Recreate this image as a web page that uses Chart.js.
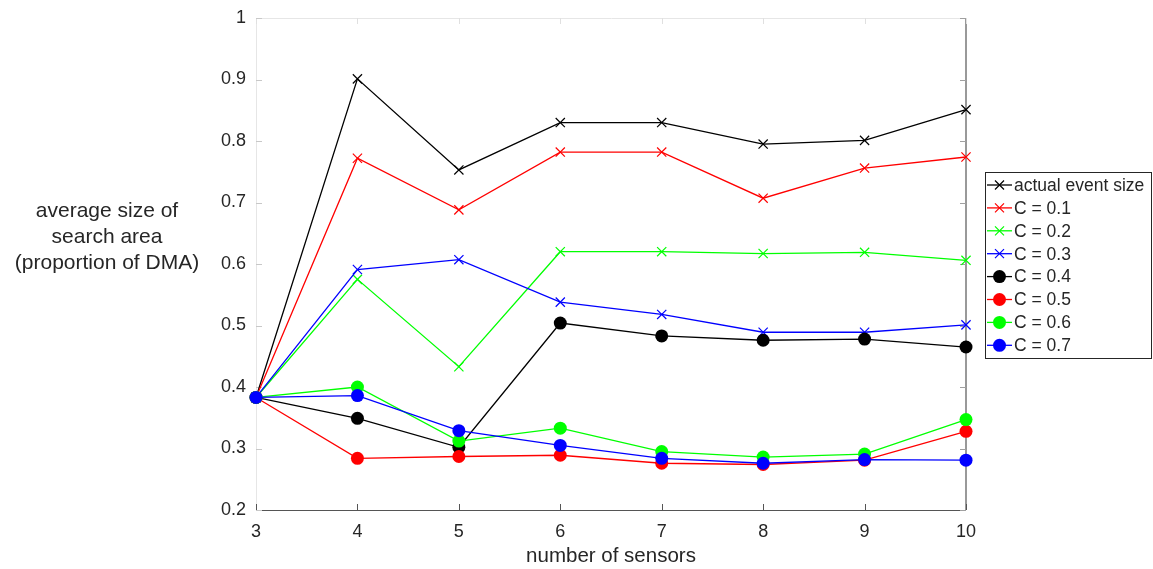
<!DOCTYPE html>
<html>
<head>
<meta charset="utf-8">
<script src="https://cdn.jsdelivr.net/npm/chart.js@4.4.1/dist/chart.umd.min.js"></script>
<style>
  html, body { margin: 0; padding: 0; background: #fff; }
  #wrap { width: 1153px; height: 569px; }
</style>
</head>
<body>
<div id="wrap"><canvas id="chart"></canvas></div>
<script>
// Sensor counts on the x axis
const sensors = [3, 4, 5, 6, 7, 8, 9, 10];

// Average search area size per configuration
const actualEventSize = [0.383, 0.901, 0.753, 0.830, 0.830, 0.795, 0.801, 0.851];
const c01 = [0.383, 0.772, 0.688, 0.782, 0.782, 0.707, 0.756, 0.774];
const c02 = [0.383, 0.575, 0.433, 0.620, 0.620, 0.617, 0.619, 0.606];
const c03 = [0.383, 0.591, 0.607, 0.538, 0.518, 0.489, 0.489, 0.501];
const c04 = [0.383, 0.349, 0.302, 0.504, 0.483, 0.476, 0.478, 0.465];
const c05 = [0.383, 0.284, 0.287, 0.289, 0.276, 0.274, 0.281, 0.328];
const c06 = [0.383, 0.400, 0.312, 0.333, 0.295, 0.286, 0.291, 0.347];
const c07 = [0.383, 0.386, 0.329, 0.305, 0.284, 0.276, 0.282, 0.281];

const seriesLabels = ['actual event size', 'C = 0.1', 'C = 0.2', 'C = 0.3', 'C = 0.4', 'C = 0.5', 'C = 0.6', 'C = 0.7'];
const seriesValues = [actualEventSize, c01, c02, c03, c04, c05, c06, c07];
const seriesColors = ['#000000', '#ff0000', '#00ff00', '#0000ff', '#000000', '#ff0000', '#00ff00', '#0000ff'];
const seriesMarkers = ['crossRot', 'crossRot', 'crossRot', 'crossRot', 'circle', 'circle', 'circle', 'circle'];

const yTicks = [0.2, 0.3, 0.4, 0.5, 0.6, 0.7, 0.8, 0.9, 1];

const FONT = '"Liberation Sans", Arial, Helvetica, sans-serif';
const TEXT = '#262626';

const datasets = seriesLabels.map((label, i) => {
    const cross = seriesMarkers[i] === 'crossRot';
    return {
        label: label,
        data: sensors.map((s, k) => ({ x: s, y: seriesValues[i][k] })),
        borderColor: seriesColors[i],
        backgroundColor: seriesColors[i],
        pointBorderColor: seriesColors[i],
        pointBackgroundColor: seriesColors[i],
        pointStyle: seriesMarkers[i],
        pointRadius: cross ? 6.5 : 6.5,
        pointBorderWidth: cross ? 1.2 : 0,
        borderWidth: 1.3,
        tension: 0,
        fill: false,
        clip: false,
        // later series sit on top
        order: seriesLabels.length - i
    };
});

// Box, inward ticks, y title and legend
const framePlugin = {
    id: 'frame',
    beforeDatasetsDraw(chart) {
        const { ctx, chartArea: a, scales } = chart;
        const xs = scales.x, ys = scales.y;
        ctx.save();

        // frame
        ctx.lineWidth = 1;
        ctx.strokeStyle = '#e6e6e6';
        ctx.beginPath();
        ctx.moveTo(a.left + 0.5, a.top + 0.5);
        ctx.lineTo(a.right + 0.5, a.top + 0.5);
        ctx.moveTo(a.left + 0.5, a.top + 0.5);
        ctx.lineTo(a.left + 0.5, a.bottom + 0.5);
        ctx.stroke();
        ctx.strokeStyle = '#999999';
        ctx.lineWidth = 2;
        ctx.beginPath();
        ctx.moveTo(a.right, a.top);
        ctx.lineTo(a.right, a.bottom);
        ctx.stroke();
        ctx.strokeStyle = '#555555';
        ctx.lineWidth = 1.2;
        ctx.beginPath();
        ctx.moveTo(a.left, a.bottom + 0.5);
        ctx.lineTo(a.right, a.bottom + 0.5);
        ctx.stroke();

        // x ticks
        ctx.lineWidth = 1;
        sensors.forEach(s => {
            const px = Math.round(xs.getPixelForValue(s)) + 0.5;
            ctx.strokeStyle = '#555555';
            ctx.beginPath();
            ctx.moveTo(px, a.bottom);
            ctx.lineTo(px, a.bottom - 6);
            ctx.stroke();
            ctx.strokeStyle = '#e0e0e0';
            ctx.beginPath();
            ctx.moveTo(px, a.top);
            ctx.lineTo(px, a.top + 6);
            ctx.stroke();
        });
        // y ticks
        yTicks.forEach(v => {
            const py = Math.round(ys.getPixelForValue(v)) + 0.5;
            ctx.strokeStyle = '#c8c8c8';
            ctx.beginPath();
            ctx.moveTo(a.left, py);
            ctx.lineTo(a.left + 6, py);
            ctx.stroke();
            ctx.strokeStyle = '#a0a0a0';
            ctx.beginPath();
            ctx.moveTo(a.right, py);
            ctx.lineTo(a.right - 6, py);
            ctx.stroke();
        });

        // y axis title
        ctx.fillStyle = TEXT;
        ctx.font = '21px ' + FONT;
        ctx.textAlign = 'center';
        ctx.textBaseline = 'middle';
        const title = ['average size of', 'search area', '(proportion of DMA)'];
        title.forEach((t, k) => ctx.fillText(t, 107, 211 + k * 26));
        ctx.restore();
    },
    afterDraw(chart) {
        const { ctx } = chart;
        ctx.save();

        // legend
        const lx = 985, ly = 172, lw = 166, lh = 186, rowH = 22.9;
        ctx.fillStyle = '#ffffff';
        ctx.fillRect(lx, ly, lw, lh);
        ctx.strokeStyle = '#262626';
        ctx.lineWidth = 1;
        ctx.strokeRect(lx + 0.5, ly + 0.5, lw, lh);
        ctx.font = '17.5px ' + FONT;
        ctx.textAlign = 'left';
        ctx.textBaseline = 'middle';
        chart.data.datasets.forEach((ds, i) => {
            const cy = ly + 13 + i * rowH;
            const mx = lx + 14.5;
            ctx.strokeStyle = ds.borderColor;
            ctx.lineWidth = 1.3;
            ctx.beginPath();
            ctx.moveTo(lx + 2, cy);
            ctx.lineTo(lx + 27, cy);
            ctx.stroke();
            if (ds.pointStyle === 'circle') {
                ctx.fillStyle = ds.backgroundColor;
                ctx.beginPath();
                ctx.arc(mx, cy, ds.pointRadius, 0, Math.PI * 2);
                ctx.fill();
            } else {
                ctx.lineWidth = 1.2;
                ctx.beginPath();
                ctx.moveTo(mx - 4.5, cy - 4.5); ctx.lineTo(mx + 4.5, cy + 4.5);
                ctx.moveTo(mx + 4.5, cy - 4.5); ctx.lineTo(mx - 4.5, cy + 4.5);
                ctx.stroke();
            }
            ctx.fillStyle = TEXT;
            ctx.fillText(ds.label, lx + 29, cy + 1);
        });

        ctx.restore();
    }
};

new Chart(document.getElementById('chart'), {
    type: 'line',
    data: { datasets },
    options: {
        responsive: true,
        maintainAspectRatio: false,
        animation: false,
        layout: { padding: { top: 18, right: 187, left: 0, bottom: 0 } },
        plugins: {
            legend: { display: false },
            tooltip: { enabled: false }
        },
        scales: {
            x: {
                type: 'linear',
                min: 3,
                max: 10,
                grid: { display: false },
                border: { display: false },
                ticks: {
                    stepSize: 1,
                    color: TEXT,
                    font: { family: FONT, size: 18 },
                    padding: 3
                },
                title: {
                    display: true,
                    text: 'number of sensors',
                    color: TEXT,
                    font: { family: FONT, size: 20.5 },
                    padding: { top: 0, bottom: 0 }
                },
                afterFit(scale) { scale.height = 59; }
            },
            y: {
                type: 'linear',
                min: 0.2,
                max: 1,
                grid: { display: false },
                border: { display: false },
                ticks: {
                    stepSize: 0.1,
                    color: TEXT,
                    font: { family: FONT, size: 18 },
                    padding: 2,
                    callback: v => String(Math.round(v * 10) / 10)
                },
                afterFit(scale) { scale.width = 256; }
            }
        }
    },
    plugins: [framePlugin]
});
</script>
</body>
</html>
